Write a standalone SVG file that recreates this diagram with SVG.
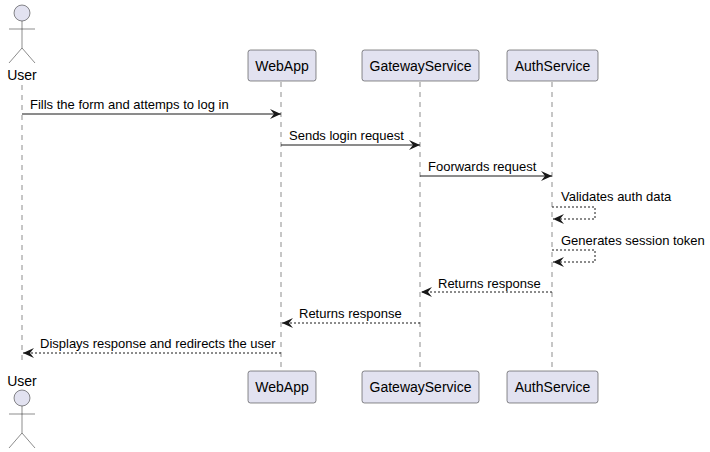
<svg xmlns="http://www.w3.org/2000/svg" width="710" height="452" viewBox="0 0 710 452">
<style>
text{font-family:"Liberation Sans",Arial,sans-serif;font-size:13px;fill:#000}
.pt{font-size:14px}
.box{fill:#E2E2F0;stroke:#181818;stroke-width:0.5}
.life{stroke:#181818;stroke-width:0.5;stroke-dasharray:5,5}
.act{fill:#E2E2F0;stroke:#181818;stroke-width:0.5}
.m{stroke:#181818;stroke-width:1;fill:none}
.d{stroke-dasharray:2,2}
</style>
<defs>
<marker id="a" viewBox="0 0 12 10" refX="11" refY="5" markerWidth="12" markerHeight="10" markerUnits="userSpaceOnUse" orient="auto"><path d="M0,0 L11,5 L0,10 L4,5 Z" fill="#181818"/></marker>
</defs>
<g id="lifelines">
<line class="life" x1="22" y1="85" x2="22" y2="365"/>
<line class="life" x1="281" y1="82" x2="281" y2="371"/>
<line class="life" x1="420" y1="82" x2="420" y2="371"/>
<line class="life" x1="552" y1="82" x2="552" y2="371"/>
</g>
<g id="User">
<circle class="act" cx="22" cy="13" r="8"/>
<path class="m" stroke-width="0.5" d="M22,21V48M9,29H35M9,63L22,48L35,63" style="stroke-width:0.5"/>
<text class="pt" x="22" y="80" text-anchor="middle">User</text>
<text class="pt" x="22" y="386" text-anchor="middle">User</text>
<circle class="act" cx="22" cy="398" r="8"/>
<path class="m" d="M22,406V433M9,414H35M9,448L22,433L35,448" style="stroke-width:0.5"/>
</g>
<g id="WebApp">
<rect class="box" x="248" y="50" width="68" height="31" rx="2.5"/>
<text class="pt" x="282" y="71" text-anchor="middle">WebApp</text>
<rect class="box" x="248" y="371" width="68" height="32" rx="2.5"/>
<text class="pt" x="282" y="392" text-anchor="middle">WebApp</text>
</g>
<g id="GatewayService">
<rect class="box" x="362" y="50" width="117" height="31" rx="2.5"/>
<text class="pt" x="420.5" y="71" text-anchor="middle">GatewayService</text>
<rect class="box" x="362" y="371" width="117" height="32" rx="2.5"/>
<text class="pt" x="420.5" y="392" text-anchor="middle">GatewayService</text>
</g>
<g id="AuthService">
<rect class="box" x="507" y="50" width="91" height="31" rx="2.5"/>
<text class="pt" x="552.5" y="71" text-anchor="middle">AuthService</text>
<rect class="box" x="507" y="371" width="91" height="32" rx="2.5"/>
<text class="pt" x="552.5" y="392" text-anchor="middle">AuthService</text>
</g>
<g id="connectors">
<line class="m" x1="22" y1="114" x2="281" y2="114" marker-end="url(#a)"/>
<text x="30" y="109">Fills the form and attemps to log in</text>
<line class="m" x1="281" y1="145" x2="420" y2="145" marker-end="url(#a)"/>
<text x="289" y="140">Sends login request</text>
<line class="m" x1="420" y1="176" x2="552" y2="176" marker-end="url(#a)"/>
<text x="428" y="171">Foorwards request</text>
<path class="m d" d="M552,207H595V219H553" marker-end="url(#a)"/>
<text x="561" y="201">Validates auth data</text>
<path class="m d" d="M552,250H595V262H553" marker-end="url(#a)"/>
<text x="561" y="245">Generates session token</text>
<line class="m d" x1="552" y1="292" x2="421" y2="292" marker-end="url(#a)"/>
<text x="438" y="288">Returns response</text>
<line class="m d" x1="420" y1="323" x2="282" y2="323" marker-end="url(#a)"/>
<text x="299" y="318">Returns response</text>
<line class="m d" x1="281" y1="353" x2="23" y2="353" marker-end="url(#a)"/>
<text x="40" y="348">Displays response and redirects the user</text>
</g>
</svg>
